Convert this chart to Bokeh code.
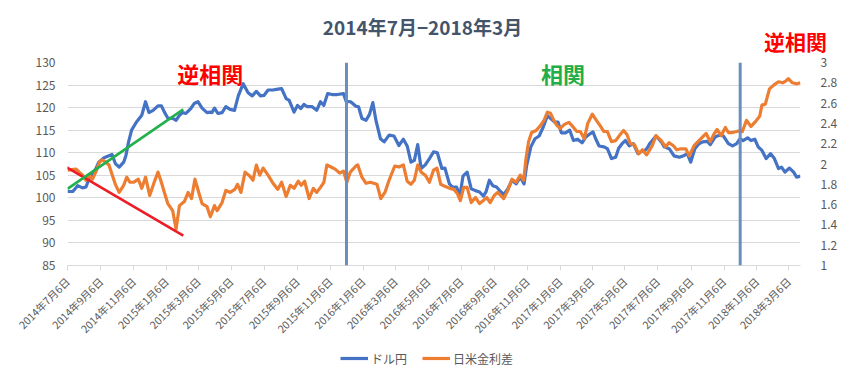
import datetime as dt
from bokeh.plotting import figure
from bokeh.models import (Range1d, LinearAxis, FixedTicker, Span, Label, Legend, LegendItem)
from bokeh.embed import file_html
from bokeh.resources import INLINE
import math

# ---------------- data ----------------
start_date = dt.date(2014, 7, 6)

# USD/JPY (left axis), x = weeks since 2014-07-06
usdjpy_weeks = [0, 1.4, 2.7, 4, 4.9, 5.7, 7.5, 8.3, 9.7, 11.8, 12.7, 13.7, 14.9, 15.5, 16.2, 17, 18.3, 19.7,
                20.7, 21.6, 22.7, 24, 24.9, 25.7, 26.6, 27.9, 28.8, 29.7, 30.5, 31.4, 32.7, 33.6, 34.6, 35.7,
                37, 37.9,
                38.3, 39.0, 39.9, 41, 42, 43.1, 44.3, 45.3, 46.6, 47.9, 49, 50.1, 51.2, 52.1, 53.2, 54.5, 55.8,
                56.8, 58, 58.8, 60.1, 61, 61.9, 62.7, 63.6, 64.9, 66.1, 67.1, 68, 69, 70.2, 71.6, 73.2, 73.9,
                75.1, 76.5,
                77.2, 78.1, 79.2, 80.1, 81, 81.8, 83, 84, 85.3, 86.6, 87.9, 89.1, 90.1, 91.1, 92, 92.9, 93.8,
                94.9, 96, 97.1, 98.1, 99.3, 100.1, 101.3, 102.1, 103.2, 104.1, 104.9, 106, 107.1, 108.2, 109.3,
                110.3, 111, 111.9, 112.8, 113.8, 115,
                115.7, 116.8, 117.9, 119, 120.1, 121.1, 121.8, 122.9, 124, 125.1, 126.2, 127.3, 128.4, 129.2,
                130.1, 131, 132.1, 133.2, 134.2, 135.3, 136.5, 137.5, 138.6, 139.4, 140.1, 141, 142.3, 143.2,
                144.3, 145.4, 146.2, 147.1, 148, 149, 150.1, 151.3, 152.3, 153.2,
                153.9, 154.4, 156.1, 157.5, 158.3, 159.6, 160.9, 162.3, 163.6, 164.4, 165.3, 166.4, 167.5,
                168.5, 169.7, 170.5, 171.8, 172.9, 174, 175.3, 176.4, 177.5, 178.4, 179.2, 180.4, 181.3, 182.3,
                183.2, 184.2, 185.3, 186.5, 187.5, 188.6, 189.4, 190.3, 191.5, 192.6, 193.4, 194.4]
usdjpy = [101.4, 101.4, 102.7, 102.2, 102.4, 104.2, 106.4, 107.9, 108.9, 109.6, 107.6, 106.8, 107.9, 109.4,
          112.4, 115.0, 116.8, 118.3, 121.3, 118.9, 119.4, 120.4, 120.4, 119.0, 117.7, 117.6, 117.2, 118.3,
          118.9, 118.7, 119.8, 120.9, 121.3, 119.9, 118.9, 119.0,
          118.9, 119.9, 118.7, 118.9, 120.2, 119.6, 119.4, 122.6, 125.3, 123.3, 122.6, 123.6, 122.6, 122.7,
          123.9, 123.9, 124.1, 124.2, 122.0, 121.6, 119.0, 120.5, 119.8, 120.7, 120.2, 120.2, 119.4, 121.3,
          120.5, 123.1, 122.9, 122.9, 123.1, 121.4, 121.3, 120.3,
          120.2, 117.6, 117.2, 118.5, 121.1, 117.2, 113.1, 112.4, 113.9, 113.7, 111.6, 113.0, 111.5, 107.9,
          108.3, 111.8, 106.5, 107.3, 108.7, 110.2, 110.0, 106.5, 106.6, 103.1, 102.4, 102.4, 100.5, 104.8,
          105.7, 102.0, 101.6, 101.3, 100.4, 101.3, 103.9, 102.7, 102.4, 101.3,
          100.7, 102.0, 103.9, 103.1, 104.6, 103.1, 107.2, 111.3, 113.1, 113.7, 115.7, 118.2, 117.4, 116.8,
          116.8, 114.4, 114.4, 115.0, 112.7, 113.0, 112.2, 113.5, 114.2, 114.6, 113.1, 111.5, 111.3, 110.9,
          108.7, 109.0, 111.0, 112.0, 112.7, 111.5, 112.0, 109.8, 110.3, 110.5,
          111.2, 112.0, 113.7, 112.4, 111.3, 110.9, 109.3, 109.0, 109.4, 109.8, 107.9, 110.9, 112.0, 112.4,
          112.5, 111.8, 113.5, 113.9, 113.7, 112.0, 111.5, 112.0, 113.1, 112.7, 113.3, 112.7, 113.0, 111.3,
          110.5, 108.7, 109.8, 108.7, 106.5, 106.8, 105.7, 106.6, 105.7, 104.6, 104.8]

# Japan-US interest rate spread (right axis)
spread_weeks = [0, 2.3, 3.1, 4, 4.9, 5.7, 6.6, 7.5, 8.5, 9.2, 10.1, 11, 11.8, 12.7, 13.7, 14.9, 15.7, 16.6,
                17.5, 18.8, 19.7, 20.7, 21.8, 23, 24, 24.9, 25.7, 26.6, 27.9, 28.8, 29.7, 31, 32, 32.9, 33.8,
                34.9, 35.7, 37, 37.9,
                39.0, 39.7, 41, 42, 43.1, 44.4, 45.1, 46, 47.1, 48.4, 49.2, 50.1, 51, 51.9, 53.2, 54.5, 55.8,
                56.8, 58, 59.1, 60.1, 61.2, 62, 62.9, 64.1, 65.2, 66.1, 67.1, 68, 68.8, 69.9, 71, 72.2, 73.2,
                74.1, 75, 76.5,
                77, 78.1, 79.2, 80.3, 81.2, 82.1, 83.1, 84.2, 85.3, 86.8, 87.9, 89.1, 90.1, 91.1, 92, 92.9,
                93.8, 94.9, 96, 97.1, 98, 99, 100.1, 101.4, 102.5, 103.4, 104.2, 105.1, 106, 107.1, 108.2,
                109.3, 110.3, 111.2, 112.1, 113.2, 114.1,
                114.9, 115.7, 116.8, 117.9, 119, 120.1, 121, 121.6, 122.3, 123.1, 124.3, 125.5, 126.4, 127.3,
                128.1, 129, 129.8, 130.7, 131.8, 133, 134, 135.1, 136, 137.1, 138, 139.2, 140.3, 141.4, 142.3,
                143.2, 144.3, 145.4, 146.4, 147.5, 148.4, 149.3, 150.4, 151.5, 152.5, 153.6,
                155.1, 156.1, 157.5, 158.6, 159.6, 160.7, 161.6, 162.7, 164, 164.9, 166.2, 167.5, 168.8,
                169.4, 170.5, 171.4, 172.3, 173.4, 174.5, 175.3, 176.4, 177.5, 178.4, 179, 180.1, 181.3,
                182.3, 183.6, 184.2, 185.1, 186.2, 187.4, 188.6, 189.7, 190.6, 191.2, 192.3, 193.5, 194.4]
spread = [1.94, 1.95, 1.92, 1.89, 1.84, 1.89, 1.85, 1.92, 2.02, 2.04, 2.02, 1.99, 1.90, 1.80, 1.72, 1.79,
          1.87, 1.82, 1.82, 1.85, 1.76, 1.87, 1.69, 1.82, 1.92, 1.82, 1.72, 1.61, 1.54, 1.36, 1.59, 1.63,
          1.72, 1.66, 1.85, 1.71, 1.61, 1.58, 1.48,
          1.59, 1.54, 1.62, 1.74, 1.72, 1.75, 1.80, 1.72, 1.92, 1.88, 1.84, 1.99, 1.89, 1.96, 1.89, 1.81,
          1.75, 1.82, 1.68, 1.79, 1.76, 1.83, 1.79, 1.83, 1.66, 1.76, 1.72, 1.77, 1.82, 1.99, 1.97, 1.95,
          1.91, 1.93, 1.82, 1.92, 1.98,
          1.99, 1.87, 1.81, 1.82, 1.81, 1.80, 1.66, 1.72, 1.84, 1.98, 1.97, 1.99, 1.83, 1.80, 1.84, 1.99,
          1.92, 1.89, 1.82, 1.94, 1.96, 1.80, 1.78, 1.76, 1.75, 1.71, 1.64, 1.77, 1.77, 1.62, 1.67, 1.61,
          1.64, 1.67, 1.62, 1.69, 1.72,
          1.69, 1.66, 1.74, 1.85, 1.82, 1.89, 1.84, 2.05, 2.22, 2.31, 2.33, 2.38, 2.43, 2.51, 2.50, 2.43,
          2.38, 2.35, 2.39, 2.41, 2.37, 2.32, 2.32, 2.25, 2.40, 2.49, 2.43, 2.37, 2.32, 2.32, 2.22, 2.23,
          2.28, 2.33, 2.29, 2.20, 2.19, 2.10, 2.14, 2.09,
          2.18, 2.28, 2.23, 2.17, 2.21, 2.18, 2.14, 2.15, 2.15, 2.08, 2.18, 2.23, 2.28, 2.30, 2.22, 2.29,
          2.34, 2.28, 2.36, 2.31, 2.31, 2.32, 2.33, 2.32, 2.43, 2.37, 2.41, 2.47, 2.58, 2.59, 2.74, 2.78,
          2.81, 2.80, 2.82, 2.84, 2.80, 2.79, 2.80]

# x-axis tick dates and labels
tick_dates = ["2014-07-06", "2014-09-06", "2014-11-06", "2015-01-06", "2015-03-06", "2015-05-06",
              "2015-07-06", "2015-09-06", "2015-11-06", "2016-01-06", "2016-03-06", "2016-05-06",
              "2016-07-06", "2016-09-06", "2016-11-06", "2017-01-06", "2017-03-06", "2017-05-06",
              "2017-07-06", "2017-09-06", "2017-11-06", "2018-01-06", "2018-03-06"]
tick_labels = ["2014年7月6日", "2014年9月6日", "2014年11月6日", "2015年1月6日", "2015年3月6日", "2015年5月6日",
               "2015年7月6日", "2015年9月6日", "2015年11月6日", "2016年1月6日", "2016年3月6日", "2016年5月6日",
               "2016年7月6日", "2016年9月6日", "2016年11月6日", "2017年1月6日", "2017年3月6日", "2017年5月6日",
               "2017年7月6日", "2017年9月6日", "2017年11月6日", "2018年1月6日", "2018年3月6日"]
left_ticks = [85, 90, 95, 100, 105, 110, 115, 120, 125, 130]
right_ticks = [1, 1.2, 1.4, 1.6, 1.8, 2, 2.2, 2.4, 2.6, 2.8, 3]
right_labels = ["1", "1.2", "1.4", "1.6", "1.8", "2", "2.2", "2.4", "2.6", "2.8", "3"]

series_names = ["ドル円", "日米金利差"]

# regime dividers
divider_dates = ["2015-12-06", "2017-12-06"]

# hand-drawn trend lines (left-axis scale)
red_trend_dates = ["2014-07-01", "2015-02-06"]
red_trend_vals = [107.0, 91.6]
green_trend_dates = ["2014-07-06", "2015-02-06"]
green_trend_vals = [102.0, 119.6]

title_text = "2014年7月−2018年3月"
in_plot_text = ["逆相関", "相関"]
in_plot_dates = ["2015-03-28", "2017-01-11"]
in_plot_vals = [127.6, 127.6]
in_plot_colors = ["#ff0000", "#1fae47"]
top_right_text = "逆相関"


def days(d):
    y, m, dd = map(int, d.split("-"))
    return (dt.date(y, m, dd) - start_date).days


FONT = "Noto Sans CJK JP"
BLUE = "#4472C4"
ORANGE = "#ED7D31"
GRID = "#d9d9d9"
TXT = "#595959"
W = 840
HEAD_H = 54
FOOT_H = 22


def strip(height):
    f = figure(width=W, height=height, output_backend="svg", toolbar_location=None,
               x_range=Range1d(0, W), y_range=Range1d(0, height),
               min_border=0, min_border_left=0, min_border_right=0,
               min_border_top=0, min_border_bottom=0,
               x_axis_location=None, y_axis_location=None)
    f.grid.visible = False
    f.outline_line_color = None
    f.background_fill_color = "white"
    f.border_fill_color = "white"
    return f


# ---------------- header strip (title + top-right note) ----------------
head = strip(HEAD_H)
head.add_layout(Label(x=422, y=HEAD_H - 26, text=title_text, text_color="#44546a", text_font=FONT,
                      text_font_style="bold", text_font_size="19px",
                      text_align="center", text_baseline="middle"))
head.add_layout(Label(x=795, y=HEAD_H - 40, text=top_right_text, text_color="#ff0000", text_font=FONT,
                      text_font_style="bold", text_font_size="21px",
                      text_align="center", text_baseline="middle"))

# ---------------- main chart ----------------
p = figure(width=W, height=293, output_backend="svg", toolbar_location=None,
           x_range=Range1d(0, 1361), y_range=Range1d(85, 130),
           min_border_left=67, min_border_right=30, min_border_top=8, min_border_bottom=82)
p.background_fill_color = "white"
p.border_fill_color = "white"
p.outline_line_color = None
p.extra_y_ranges = {"rate": Range1d(1, 3)}

xa = p.xaxis[0]
xa.ticker = FixedTicker(ticks=[days(d) for d in tick_dates])
xa.major_label_overrides = {days(d): lab for d, lab in zip(tick_dates, tick_labels)}
xa.major_label_orientation = math.pi / 4
xa.axis_line_color = GRID
xa.major_tick_line_color = GRID
xa.major_tick_out = 5
xa.major_tick_in = 0
xa.minor_tick_line_color = None
xa.major_label_text_font = FONT
xa.major_label_text_font_size = "10.5px"
xa.major_label_text_color = TXT
xa.major_label_standoff = 9

ya = p.yaxis[0]
ya.ticker = FixedTicker(ticks=left_ticks)
ya.axis_line_color = None
ya.major_tick_line_color = None
ya.minor_tick_line_color = None
ya.major_label_text_font = FONT
ya.major_label_text_font_size = "12px"
ya.major_label_text_color = TXT
ya.major_label_standoff = 6

ra = LinearAxis(y_range_name="rate", ticker=FixedTicker(ticks=right_ticks))
ra.major_label_overrides = {t: s for t, s in zip(right_ticks, right_labels)}
ra.axis_line_color = None
ra.major_tick_line_color = None
ra.minor_tick_line_color = None
ra.major_label_text_font = FONT
ra.major_label_text_font_size = "12px"
ra.major_label_text_color = TXT
ra.major_label_standoff = 14
p.add_layout(ra, "right")

p.xgrid.visible = False
p.ygrid.grid_line_color = GRID
p.ygrid.ticker = FixedTicker(ticks=left_ticks)

usd_x = [w * 7 for w in usdjpy_weeks]
spr_x = [w * 7 for w in spread_weeks]
p.line(usd_x, usdjpy, line_color=BLUE, line_width=3.2, line_join="round")
p.line(spr_x, spread, y_range_name="rate", line_color=ORANGE, line_width=3.2, line_join="round")

p.line([days(d) for d in red_trend_dates], red_trend_vals, line_color="#ee1c24", line_width=2.6)
p.line([days(d) for d in green_trend_dates], green_trend_vals, line_color="#22b14c", line_width=2.6)

for d in divider_dates:
    p.add_layout(Span(location=days(d), dimension="height", line_color="#6c8ebf", line_width=3))

for t, d, v, c in zip(in_plot_text, in_plot_dates, in_plot_vals, in_plot_colors):
    p.add_layout(Label(x=days(d), y=v, text=t, text_color=c, text_font=FONT,
                       text_font_style="bold", text_font_size="22px",
                       text_align="center", text_baseline="middle"))

# ---------------- legend strip ----------------
foot = strip(FOOT_H)
# same series, outside this strip's visible range: only their legend swatches show
g1 = foot.line(usd_x, usdjpy, line_color=BLUE, line_width=3.2)
g2 = foot.line(spr_x, [v + 100 for v in spread], line_color=ORANGE, line_width=3.2)
legend = Legend(items=[LegendItem(label=series_names[0], renderers=[g1]),
                       LegendItem(label=series_names[1], renderers=[g2])],
                orientation="horizontal", location=(340, 1),
                label_text_font=FONT, label_text_font_size="12px", label_text_color=TXT,
                glyph_width=28, glyph_height=20, label_standoff=3, spacing=15,
                border_line_color=None, background_fill_alpha=0, padding=0, margin=0)
foot.add_layout(legend, "center")

open("out.html", "w").write(file_html([head, p, foot], INLINE))
